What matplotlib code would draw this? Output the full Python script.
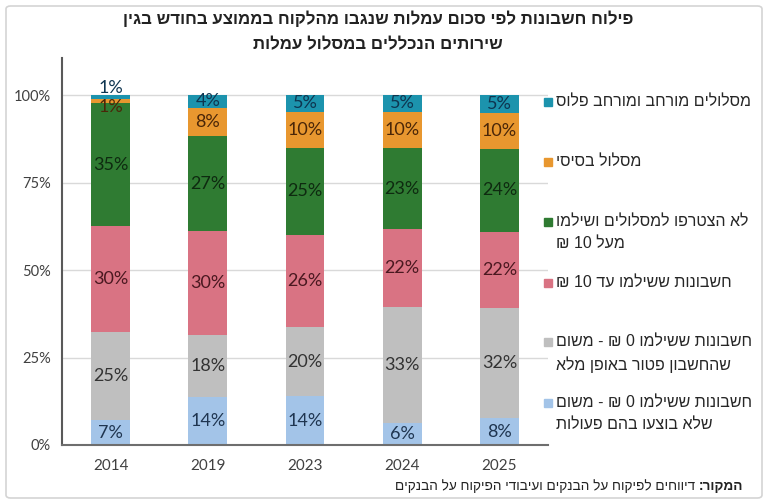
import re
import numpy as np
import matplotlib
matplotlib.use('Agg')
from matplotlib import pyplot as plt
from matplotlib.patches import Rectangle, FancyBboxPatch

years = ['2014', '2019', '2023', '2024', '2025']

# shares in %, bottom -> top
no_activity = [7.1, 13.8, 14.0, 6.2, 7.6]
exempt = [25.3, 17.6, 19.7, 33.3, 31.6]
upto_10 = [30.3, 29.7, 26.3, 22.1, 21.8]
over_10 = [34.9, 27.2, 25.0, 23.2, 23.6]
basic = [1.3, 8.1, 10.2, 10.4, 10.4]
extended = [1.1, 3.6, 4.8, 4.8, 5.0]

series = [no_activity, exempt, upto_10, over_10, basic, extended]
colors = ['#A3C4E8', '#BFBFBF', '#D97383', '#2F7B32', '#E8972F', '#1C93AD']
text_colors = ['#1F3550', '#333333', '#4A1820', '#0E2A10', '#4A2608', '#0E3550']

legend_labels = [
    'מסלולים מורחב ומורחב פלוס',
    'מסלול בסיסי',
    'לא הצטרפו למסלולים ושילמו\nמעל 10 ₪',
    'חשבונות ששילמו עד 10 ₪',
    'חשבונות ששילמו 0 ₪ - משום\nשהחשבון פטור באופן מלא',
    'חשבונות ששילמו 0 ₪ - משום\nשלא בוצעו בהם פעולות',
]
title_lines = ['פילוח חשבונות לפי סכום עמלות שנגבו מהלקוח בממוצע בחודש בגין',
               'שירותים הנכללים במסלול עמלות']
source_bold = 'המקור:'
source_text = 'דיווחים לפיקוח על הבנקים ועיבודי הפיקוח על הבנקים'

HEB = ['Liberation Sans', 'DejaVu Sans']
NUM = ['Lato', 'DejaVu Sans']


def rtl(s):
    # matplotlib has no bidi support, so flip every line by hand
    out = []
    for line in s.split('\n'):
        r = line[::-1]
        out.append(re.sub(r'[0-9A-Za-z.,%]+', lambda m: m.group(0)[::-1], r))
    return '\n'.join(out)


fig = plt.figure(figsize=(7.68, 5.03), dpi=100)
fig.patch.set_facecolor('white')
fig.add_artist(FancyBboxPatch((6 / 768, 5 / 503), 756 / 768, 492 / 503,
                              boxstyle='round,pad=0,rounding_size=0.006',
                              transform=fig.transFigure, fill=False,
                              edgecolor='#D4D4D4', lw=1.2))

ax = fig.add_axes([62 / 768, 58 / 503, 486 / 768, 387 / 503])
x = np.arange(len(years))
bottom = np.zeros(len(years))
for vals, c, tc in zip(series, colors, text_colors):
    vals = np.array(vals)
    ax.bar(x, vals, 0.4, bottom=bottom, color=c, zorder=2)
    for i, v in enumerate(vals):
        y = bottom[i] + v / 2
        if v < 3:
            # tiny 2014 segments: labels pushed apart like the original
            y = 102 if c == colors[5] else 96.6
        ax.text(x[i], y, f'{round(v)}%', ha='center', va='center',
                fontsize=13, color=tc, family=NUM, zorder=3)
    bottom += vals

ax.set_xlim(-0.5, 4.5)
ax.set_ylim(0, 110.6)
ax.set_yticks([0, 25, 50, 75, 100])
ax.set_yticklabels(['0%', '25%', '50%', '75%', '100%'], family=NUM,
                   fontsize=10.5, color='#404040')
ax.set_xticks(x)
ax.set_xticklabels(years, family=NUM, fontsize=11, color='#404040')
ax.tick_params(length=0, pad=8)
ax.tick_params(axis='x', pad=10)
ax.yaxis.grid(True, color='#D9D9D9', lw=1, zorder=0)
ax.set_axisbelow(True)
for s in ['top', 'right']:
    ax.spines[s].set_visible(False)
ax.spines['left'].set_color('#595959')
ax.spines['left'].set_linewidth(1.5)
ax.spines['bottom'].set_color('#6E6E6E')
ax.spines['bottom'].set_linewidth(1.5)

# title
fig.text(378 / 768, 1 - 19 / 503, rtl(title_lines[0]), ha='center', va='center',
         fontsize=12.2, fontweight='bold', family=HEB, color='#222222')
fig.text(378 / 768, 1 - 45 / 503, rtl(title_lines[1]), ha='center', va='center',
         fontsize=12.2, fontweight='bold', family=HEB, color='#222222')

# legend, same top-to-bottom order as the stack
leg_y = [102, 162, 222, 283, 342, 403]
for lbl, c, yy in zip(legend_labels, colors[::-1], leg_y):
    fig.add_artist(Rectangle(((548 - 4) / 768, 1 - (yy + 4) / 503), 8 / 768, 8 / 503,
                             transform=fig.transFigure, color=c))
    fig.text(556 / 768, 1 - (yy - 8) / 503, rtl(lbl), ha='left', va='top',
             fontsize=11.5, family=HEB, color='#262626', linespacing=1.55)

# source line, bold part on the right
fig.canvas.draw()
r = fig.canvas.get_renderer()
tb = fig.text(743 / 768, 1 - 486 / 503, rtl(source_bold), ha='right', va='center',
              fontsize=9.8, fontweight='bold', family=HEB, color='#222222')
bb = tb.get_window_extent(renderer=r)
fig.text((bb.x0 - 3) / 768, 1 - 486 / 503, rtl(source_text), ha='right', va='center',
         fontsize=9.8, family=HEB, color='#222222')

fig.savefig('out.png', dpi=100)
